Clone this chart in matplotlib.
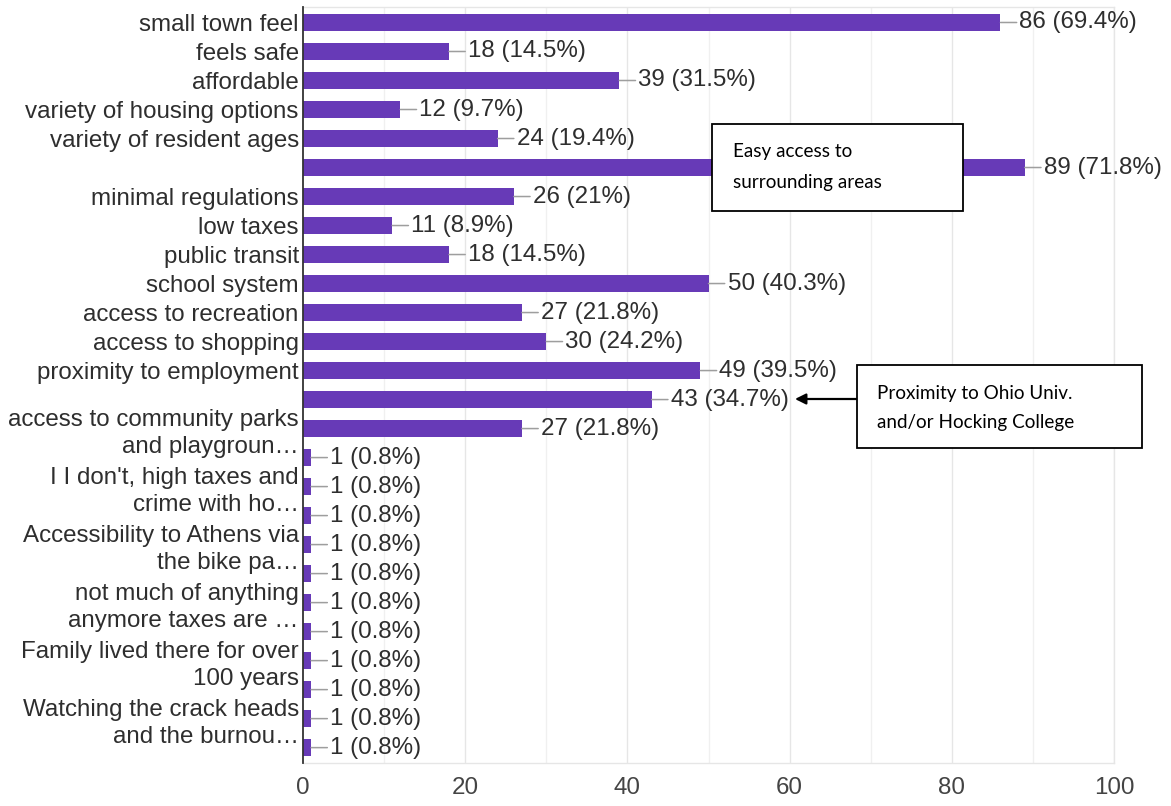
import matplotlib
matplotlib.use("Agg")
import matplotlib.pyplot as plt
from matplotlib.patches import Rectangle

# ---------------- data ----------------
categories = [
    "small town feel", "feels safe", "affordable", "variety of housing options",
    "variety of resident ages", "", "minimal regulations", "low taxes",
    "public transit", "school system", "access to recreation", "access to shopping",
    "proximity to employment", "",
    "access to community parks\nand playgroun…", "",
    "I I don't, high taxes and\ncrime with ho…", "",
    "Accessibility to Athens via\nthe bike pa…", "",
    "not much of anything\nanymore taxes are …", "",
    "Family lived there for over\n100 years", "",
    "Watching the crack heads\nand the burnou…", "",
]
counts = [86, 18, 39, 12, 24, 89, 26, 11, 18, 50, 27, 30, 49, 43, 27,
          1, 1, 1, 1, 1, 1, 1, 1, 1, 1, 1]
percents = ["69.4", "14.5", "31.5", "9.7", "19.4", "71.8", "21", "8.9", "14.5",
            "40.3", "21.8", "24.2", "39.5", "34.7", "21.8",
            "0.8", "0.8", "0.8", "0.8", "0.8", "0.8", "0.8", "0.8", "0.8", "0.8", "0.8"]
x_ticks = [0, 20, 40, 60, 80, 100]
note1 = "Easy access to\nsurrounding areas"
note2 = "Proximity to Ohio Univ.\nand/or Hocking College"

# ---------------- figure ----------------
W, H = 1171, 806
fig = plt.figure(figsize=(W / 100, H / 100), dpi=100)
ax = fig.add_axes([303 / W, 1 - 763 / H, (1114 - 303) / W, (763 - 7) / H])

FONT = "Liberation Sans"
FS = 17.4
BAR = "#673ab7"
TXT = "#2e2e2e"

pos = list(range(len(counts)))
ax.barh(pos, counts, height=0.59, color=BAR, zorder=3)

ax.set_xlim(0, 100)
ax.set_ylim(25.53, -0.534)

# grid
for g in range(10, 101, 10):
    ax.axvline(g, color="#e6e6e6" if g % 20 == 0 else "#f0f0f0", lw=1, zorder=1)

for s in ["top", "right", "bottom"]:
    ax.spines[s].set_color("#e6e6e6")
    ax.spines[s].set_linewidth(1)
ax.spines["left"].set_color("#333333")
ax.spines["left"].set_linewidth(1.3)
ax.spines["left"].set_zorder(4)

ax.set_xticks(x_ticks)
ax.set_xticklabels([str(t) for t in x_ticks], fontsize=FS, family=FONT, color="#444444")
ax.set_yticks(pos)
ax.set_yticklabels(categories, fontsize=FS, family=FONT, color=TXT, linespacing=1.3)
ax.tick_params(axis="x", length=0, pad=10)
ax.tick_params(axis="y", length=0, pad=3)

# value labels with leader lines
for i, (c, p) in enumerate(zip(counts, percents)):
    ax.annotate(f"{c} ({p}%)", xy=(c, i), xytext=(19, 0), textcoords="offset pixels",
                ha="left", va="center", fontsize=FS, family=FONT, color=TXT, zorder=5,
                arrowprops=dict(arrowstyle="-", color="#9e9e9e", lw=1.1,
                                shrinkA=0, shrinkB=0))

# annotation boxes
def box(x0, y0, x1, y1):
    fig.add_artist(Rectangle((x0 / W, 1 - y1 / H), (x1 - x0) / W, (y1 - y0) / H,
                             transform=fig.transFigure, facecolor="white",
                             edgecolor="black", lw=1.3, zorder=10))

box(712, 124, 963, 211)
fig.text(733 / W, 1 - 167 / H, note1, ha="left", va="center", fontsize=13.6,
         family="Lato", color="black", linespacing=1.95, zorder=11)

box(857, 365, 1142, 448)
fig.text(877 / W, 1 - 408 / H, note2, ha="left", va="center", fontsize=13.6,
         family="Lato", color="black", linespacing=1.8, zorder=11)

ax.annotate("", xy=(795 / W, 1 - 399 / H), xycoords="figure fraction",
            xytext=(857 / W, 1 - 399 / H), textcoords="figure fraction",
            arrowprops=dict(arrowstyle="-|>", color="black", lw=1.6,
                            mutation_scale=16, shrinkA=0, shrinkB=0), zorder=11)

fig.savefig("out.png", dpi=100, facecolor="white")
